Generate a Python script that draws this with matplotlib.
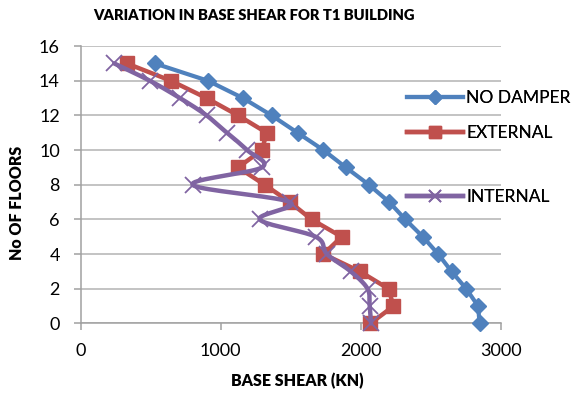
import numpy as np
import matplotlib
matplotlib.use("Agg")
import matplotlib.pyplot as plt
from matplotlib.lines import Line2D

plt.rcParams['font.family'] = ['Lato', 'DejaVu Sans']

# Base shear (kN) per floor level, floors 0..15
floors = list(range(16))
no_damper = [2850, 2840, 2755, 2650, 2555, 2445, 2320, 2205,
             2060, 1895, 1735, 1550, 1365, 1160, 910, 530]
external = [2070, 2235, 2200, 1995, 1735, 1865, 1650, 1495,
            1315, 1125, 1295, 1330, 1125, 900, 645, 330]
internal = [2075, 2065, 2050, 1930, 1760, 1680, 1280, 1495,
            800, 1295, 1190, 1045, 900, 710, 495, 240]

series_names = ["NO DAMPER", "EXTERNAL", "INTERNAL"]
x_ticks = [0, 1000, 2000, 3000]
y_ticks = list(range(0, 17, 2))


def smooth(xs, ys, n=20):
    # bezier segments through every point (excel-style smoothed line)
    p = np.column_stack([xs, ys]).astype(float)
    p = np.vstack([p[0], p, p[-1]])
    out = []
    for i in range(1, len(p) - 2):
        p0, p1, p2, p3 = p[i - 1], p[i], p[i + 1], p[i + 2]
        c1 = p1 + (p2 - p0) / 6
        c2 = p2 - (p3 - p1) / 6
        t = np.linspace(0, 1, n)[:, None]
        seg = ((1 - t) ** 3 * p1 + 3 * (1 - t) ** 2 * t * c1
               + 3 * (1 - t) * t ** 2 * c2 + t ** 3 * p2)
        out.append(seg if i == 1 else seg[1:])
    out = np.vstack(out)
    return out[:, 0], out[:, 1]


blue = '#4F81BD'
red = '#C0504D'
purple = '#8064A2'

fig = plt.figure(figsize=(5.8, 3.94), dpi=100)
ax = fig.add_axes([0.139, 0.179, 0.724, 0.704])

ax.plot(no_damper, floors, color=blue, lw=3.0, marker='D', ms=8,
        solid_capstyle='round', zorder=3, clip_on=False)
ax.plot(external, floors, color=red, lw=3.2, marker='s', ms=10,
        solid_capstyle='round', zorder=4, clip_on=False)
sx, sy = smooth(internal, floors)
ax.plot(sx, sy, color=purple, lw=3.2, solid_capstyle='round', zorder=5,
        clip_on=False)
ax.plot(internal, floors, ls='none', marker='x', ms=11, mew=1.3,
        color=purple, zorder=5, clip_on=False)

ax.set_xlim(0, 3000)
ax.set_ylim(0, 16)
ax.set_xticks(x_ticks)
ax.set_yticks(y_ticks)
ax.grid(axis='y', color='#B3B3B3', lw=1.1)
ax.set_axisbelow(True)
for s in ['top', 'right']:
    ax.spines[s].set_visible(False)
for s in ['left', 'bottom']:
    ax.spines[s].set_color('#A0A0A0')
    ax.spines[s].set_linewidth(1.1)
ax.tick_params(axis='both', colors='#A0A0A0', length=5, width=1.1,
               labelsize=13, labelcolor='black')
ax.tick_params(axis='y', pad=10)
ax.tick_params(axis='x', pad=9)

fig.text(254 / 580, 1 - 15 / 394, "VARIATION IN BASE SHEAR FOR T1 BUILDING",
         fontsize=10.6, fontweight='heavy', ha='center', va='center')
fig.text(297 / 580, 1 - 381 / 394, "BASE SHEAR (KN)",
         fontsize=11.5, fontweight='heavy', ha='center', va='center')
fig.text(17 / 580, 1 - 203 / 394, "No OF FLOORS", rotation=90,
         fontsize=11.5, fontweight='heavy', ha='center', va='center')

# legend entries, placed individually
handles = [
    Line2D([], [], color=blue, lw=3.0, marker='D', ms=7),
    Line2D([], [], color=red, lw=3.2, marker='s', ms=9),
    Line2D([], [], color=purple, lw=3.2, marker='x', ms=9, mew=1.3),
]
rows_y = [98, 133, 197]
for h, name, yy in zip(handles, series_names, rows_y):
    leg = fig.legend([h], [name], loc='center left',
                     bbox_to_anchor=(407 / 580, 1 - yy / 394),
                     frameon=False, fontsize=12.5, handlelength=3.2,
                     handletextpad=0.2, borderpad=0, borderaxespad=0)
    fig.add_artist(leg)

fig.savefig("out.png", dpi=100)
